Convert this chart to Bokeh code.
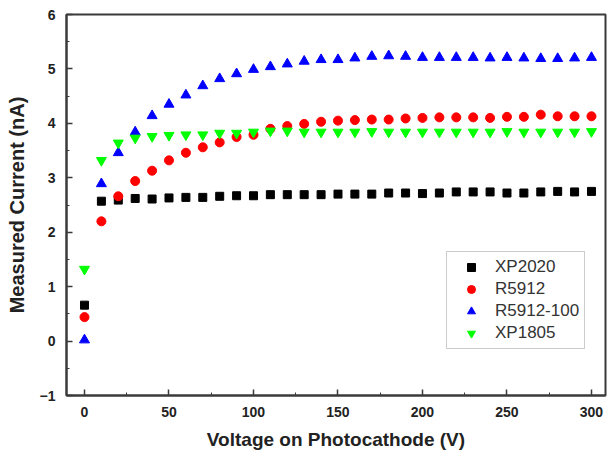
from bokeh.plotting import figure
from bokeh.models import Range1d, Legend, LegendItem, FixedTicker
from bokeh.embed import file_html
from bokeh.resources import INLINE

voltage = list(range(0, 301, 10))
xp2020 = [0.66, 2.57, 2.59, 2.62, 2.61, 2.63, 2.64, 2.64, 2.66, 2.67, 2.67,
          2.69, 2.69, 2.69, 2.69, 2.70, 2.70, 2.70, 2.72, 2.72, 2.71,
          2.72, 2.74, 2.74, 2.74, 2.72, 2.72, 2.74, 2.75, 2.74, 2.75]
r5912 = [0.44, 2.20, 2.66, 2.94, 3.13, 3.32, 3.46, 3.56, 3.65, 3.75, 3.79,
         3.90, 3.95, 3.99, 4.03, 4.05, 4.06, 4.07, 4.07, 4.09, 4.10,
         4.11, 4.11, 4.11, 4.10, 4.12, 4.12, 4.16, 4.13, 4.13, 4.13]
r5912_100 = [0.02, 2.89, 3.46, 3.84, 4.14, 4.35, 4.52, 4.69, 4.82, 4.91, 4.99,
             5.04, 5.09, 5.14, 5.17, 5.17, 5.20, 5.23, 5.24, 5.23, 5.21,
             5.21, 5.21, 5.21, 5.20, 5.21, 5.20, 5.19, 5.19, 5.20, 5.21]
xp1805 = [1.32, 3.32, 3.64, 3.73, 3.76, 3.78, 3.79, 3.79, 3.82, 3.82, 3.84,
          3.86, 3.86, 3.84, 3.84, 3.84, 3.84, 3.85, 3.84, 3.84, 3.84,
          3.84, 3.84, 3.84, 3.84, 3.85, 3.84, 3.84, 3.84, 3.84, 3.85]

series_names = ["XP2020", "R5912", "R5912-100", "XP1805"]
x_ticks = [0, 50, 100, 150, 200, 250, 300]
y_ticks = [-1, 0, 1, 2, 3, 4, 5, 6]

FONT = "Liberation Sans"
AX = "#3a3a3a"

p = figure(width=609, height=456, output_backend="svg", toolbar_location=None,
           x_range=Range1d(-10.65, 308.3), y_range=Range1d(-1, 6),
           min_border_left=66, min_border_right=4, min_border_top=14,
           min_border_bottom=61)
p.background_fill_color = "white"
p.border_fill_color = "white"
p.outline_line_color = AX
p.outline_line_width = 2
p.xgrid.visible = False
p.ygrid.visible = False

r1 = p.scatter(voltage, xp2020, marker="square", size=8, color="black")
r2 = p.scatter(voltage, r5912, marker="circle", size=9, color="#ff0000")
r3 = p.scatter(voltage, r5912_100, marker="triangle", size=10, color="#0000ff")
r4 = p.scatter(voltage, xp1805, marker="inverted_triangle", size=10, color="#00ff00")

p.xaxis.ticker = FixedTicker(ticks=x_ticks, minor_ticks=[25, 75, 125, 175, 225, 275])
p.yaxis.ticker = FixedTicker(ticks=y_ticks,
                             minor_ticks=[-0.5, 0.5, 1.5, 2.5, 3.5, 4.5, 5.5])
for ax in (p.xaxis[0], p.yaxis[0]):
    ax.axis_line_color = AX
    ax.axis_line_width = 2
    ax.major_tick_in = 6
    ax.major_tick_out = 0
    ax.minor_tick_in = 3
    ax.minor_tick_out = 0
    ax.major_tick_line_color = AX
    ax.minor_tick_line_color = AX
    ax.major_tick_line_width = 1.5
    ax.major_label_text_font = FONT
    ax.major_label_text_font_style = "bold"
    ax.major_label_text_font_size = "14px"
    ax.major_label_text_color = "#222222"
    ax.axis_label_text_font = FONT
    ax.axis_label_text_font_style = "bold"
    ax.axis_label_text_color = "#222222"

p.xaxis.axis_label = "Voltage on Photocathode (V)"
p.yaxis.axis_label = "Measured Current (nA)"
p.xaxis.axis_label_text_font_size = "19px"
p.yaxis.axis_label_text_font_size = "20px"
p.xaxis.major_label_standoff = 11
p.yaxis.major_label_standoff = 11
p.xaxis.axis_label_standoff = 9
p.yaxis.axis_label_standoff = 9

legend = Legend(items=[LegendItem(label=n, renderers=[r]) for n, r in
                       zip(series_names, [r1, r2, r3, r4])],
                location=(380, 46))
legend.border_line_color = "#999999"
legend.border_line_width = 1.5
legend.label_text_font = FONT
legend.label_text_font_size = "17px"
legend.label_text_color = "#333333"
legend.glyph_width = 38
legend.glyph_height = 20
legend.label_height = 20
legend.label_standoff = 5
legend.padding = 5
legend.spacing = 2
legend.margin = 0
p.add_layout(legend, "center")

open("out.html", "w").write(file_html(p, INLINE))
